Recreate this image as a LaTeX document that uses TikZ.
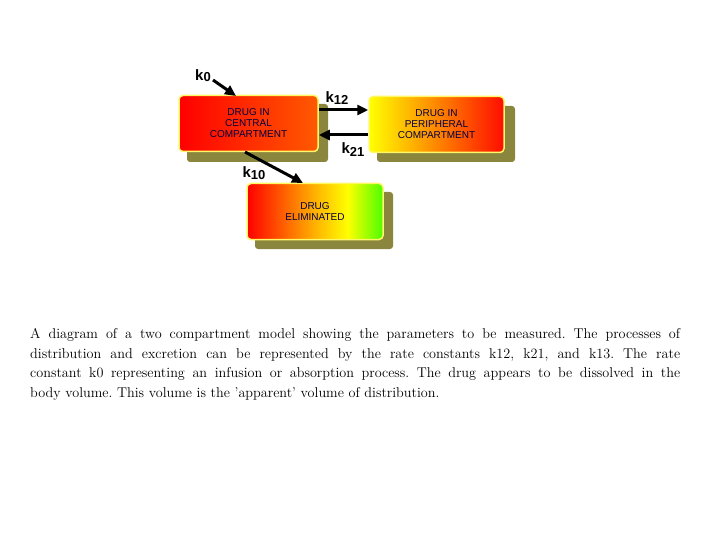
\documentclass[tikz,border=0pt]{standalone}
\usepackage{fontspec}
\newfontfamily\boxfont{Liberation Sans}
\usetikzlibrary{arrows.meta}
\pgfdeclarehorizontalshading{rygshade}{100bp}{color(0bp)=(red);color(25bp)=(red);color(50bp)=(orange!60!yellow);color(62bp)=(yellow);color(75bp)=(green!70!yellow);color(100bp)=(green!80!lime)}
\begin{document}
\begin{tikzpicture}[x=1pt,y=-1pt,
  shadowbox/.style={fill=olive!70!black!80,rounded corners=3pt},
  comp/.style={draw=yellow!60,line width=1.5pt,rounded corners=4pt,minimum width=#1,minimum height=56pt,align=center,text=blue!25!black,font=\boxfont\fontsize{10}{11}\selectfont,inner sep=0pt},
  arr/.style={-{Triangle[length=11pt,width=10pt]},line width=3pt},
  klab/.style={font=\boxfont\bfseries\fontsize{15}{15}\selectfont,inner sep=0pt}]
\useasboundingbox (0,0) rectangle (720,540);
\fill[shadowbox] (187,104) rectangle (328,162);
\fill[shadowbox] (377,106) rectangle (515,162);
\fill[shadowbox] (255,192) rectangle (393,249);
\node[comp=139pt,left color=red,right color=orange!70!red] (c) at (248.5,123.5) {DRUG IN\\CENTRAL\\COMPARTMENT};
\node[comp=135pt,left color=yellow,right color=red!90!orange] (p) at (436.5,124.5) {DRUG IN\\PERIPHERAL\\COMPARTMENT};
\node[comp=136pt,shading=rygshade] (e) at (315,211.5) {DRUG\\ELIMINATED};
\coordinate (k0s) at (213,80);
\draw[arr] (k0s) -- (236,96);
\draw[arr] (c.east |- 0,110) -- (p.west |- 0,110);
\draw[arr] (p.west |- 0,135) -- (c.east |- 0,135);
\draw[arr] (245,152) -- (303,183);
\node[klab] (l0) at (203,76) {k\raisebox{-1pt}{\fontsize{13}{13}\selectfont 0}};
\node[klab] (l12) at (337,98) {k\raisebox{-2pt}{\fontsize{13}{13}\selectfont 12}};
\node[klab] (l21) at (353,150) {k\raisebox{-3pt}{\fontsize{13}{13}\selectfont 21}};
\node[klab] (l10) at (254,173) {k\raisebox{-2pt}{\fontsize{13}{13}\selectfont 10}};
\node[anchor=north west,text width=650pt,align=justify,inner sep=0pt,font=\fontsize{14.2}{19.7}\selectfont] (cap) at (30,328) {\frenchspacing\hyphenpenalty=10000 A diagram of a two compartment model showing the parameters to be measured. The processes of\linebreak distribution and excretion can be represented by the rate constants k12, k21, and k13. The rate\linebreak constant k0 representing an infusion or absorption process. The drug appears to be dissolved in the\linebreak body volume. This volume is the 'apparent' volume of distribution.};
\end{tikzpicture}
\end{document}
